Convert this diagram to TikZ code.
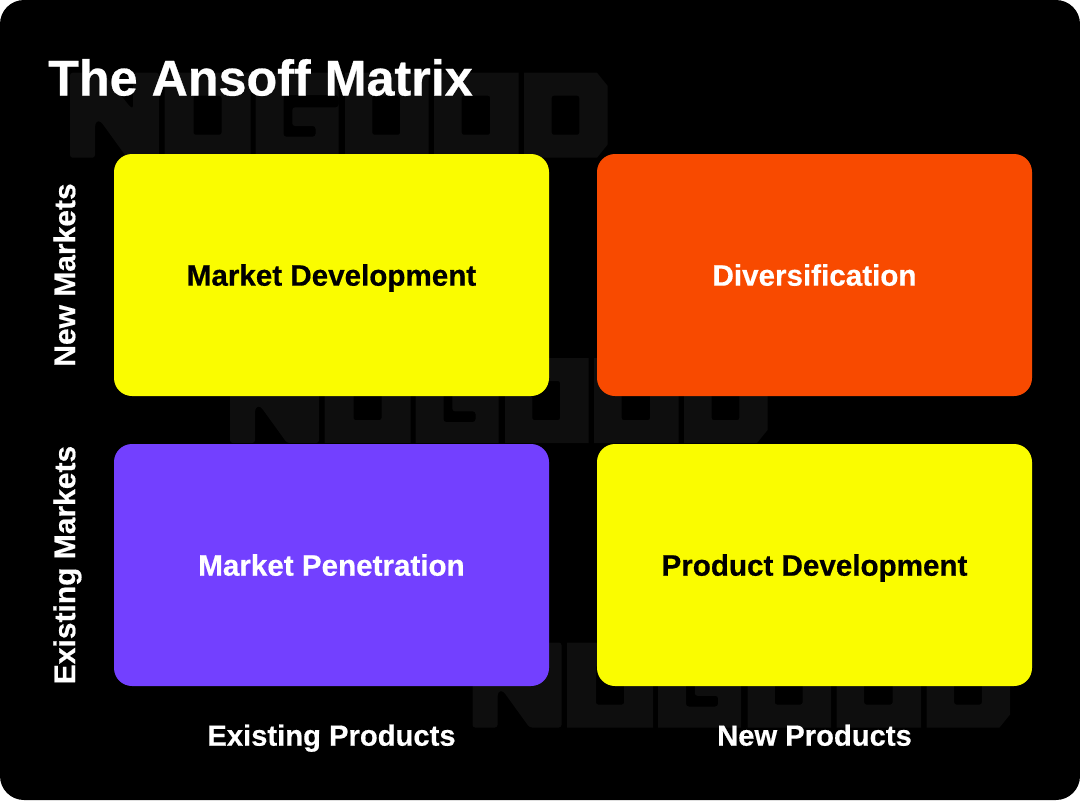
\documentclass[tikz,border=0pt]{standalone}
\usepackage{fontspec}
\setmainfont[BoldFeatures={FakeBold=0.5}]{Liberation Sans}
\usetikzlibrary{positioning}
\definecolor{cardyellow}{HTML}{FAFC00}
\definecolor{cardorange}{HTML}{F84A00}
\definecolor{cardviolet}{HTML}{7340FF}
\definecolor{markgrey}{HTML}{0E0E0E}
\tikzset{
	x=0.75pt,y=-0.75pt,
	card/.style={rounded corners=13.5pt,minimum width=435*0.75pt,minimum height=242*0.75pt,inner sep=0pt,text height=16pt,text depth=0pt,font=\bfseries\fontsize{22.2}{26}\selectfont},
	axis/.style={text=white,inner sep=0pt,text height=16pt,text depth=0pt,font=\bfseries\fontsize{21.9}{26}\selectfont},
	sideaxis/.style={axis,rotate=90,font=\bfseries\fontsize{22.5}{26}\selectfont},
	markletter/.style={fill=markgrey,even odd rule},
	pics/nogood/.style={code={
		% N
		\fill[markletter,rounded corners=2pt] (0,0) -- (33,0) -- (60,34) -- (63,36) -- (63,0) -- (89,0) -- (89,85) -- (57,85) -- (31,49) -- (27,48) -- (25,52) -- (25,85) -- (0,85) -- cycle;
		% O
		\fill[markletter] (94.5,0) rectangle (180.5,85) [rounded corners=1.5pt] (123.5,23) rectangle (151.5,62);
		% G
		\fill[markletter] (185.5,0) rectangle (268.5,85) [rounded corners=2pt] (213.5,22.5) -- (268.5,22.5) -- (268.5,34.6) -- (222.3,34.6) -- (222.3,53.3) -- (245.5,53.3) -- (245.5,64) -- (213.5,64) -- cycle;
		% O
		\fill[markletter] (275,0) rectangle (358.5,85) [rounded corners=1.5pt] (302.3,23) rectangle (330,62);
		% O
		\fill[markletter] (364,0) rectangle (448.5,85) [rounded corners=1.5pt] (391.7,23) rectangle (420,62);
		% D
		\fill[markletter] (454,0) -- (527,0) -- (537.5,13) -- (537.5,72) -- (527,85) -- (454,85) -- cycle [rounded corners=1.5pt] (481.7,23) rectangle (509.3,62);
	}},
}
\begin{document}
\begin{tikzpicture}
	\useasboundingbox (0,0) rectangle (1080,800);
	\fill[black,rounded corners=18pt] (0,0) rectangle (1080,800);
	\pic at (70,72.7) {nogood};
	\pic at (230,358) {nogood};
	\pic at (472.5,642.5) {nogood};
	\node[anchor=west,text=white,inner sep=0pt,text height=27pt,text depth=0pt,font=\bfseries\fontsize{37.7}{44}\selectfont] (title) at (48,77.5) {The Ansoff Matrix};
	\node[card,fill=cardyellow,text=black] (develop) at (331.5,275) {Market Development};
	\node[card,fill=cardorange,text=white] (diversify) at (814.5,275) {Diversification};
	\node[card,fill=cardviolet,text=white] (penetrate) at (331.5,565) {Market Penetration};
	\node[card,fill=cardyellow,text=black] (product) at (814.5,565) {Product Development};
	\node[sideaxis] (newmarkets) at (64.5,275) {New Markets};
	\node[sideaxis] (oldmarkets) at (64.5,565) {Existing Markets};
	\node[axis] (oldproducts) at (331.5,735) {Existing Products};
	\node[axis] (newproducts) at (814.5,735) {New Products};
\end{tikzpicture}
\end{document}
